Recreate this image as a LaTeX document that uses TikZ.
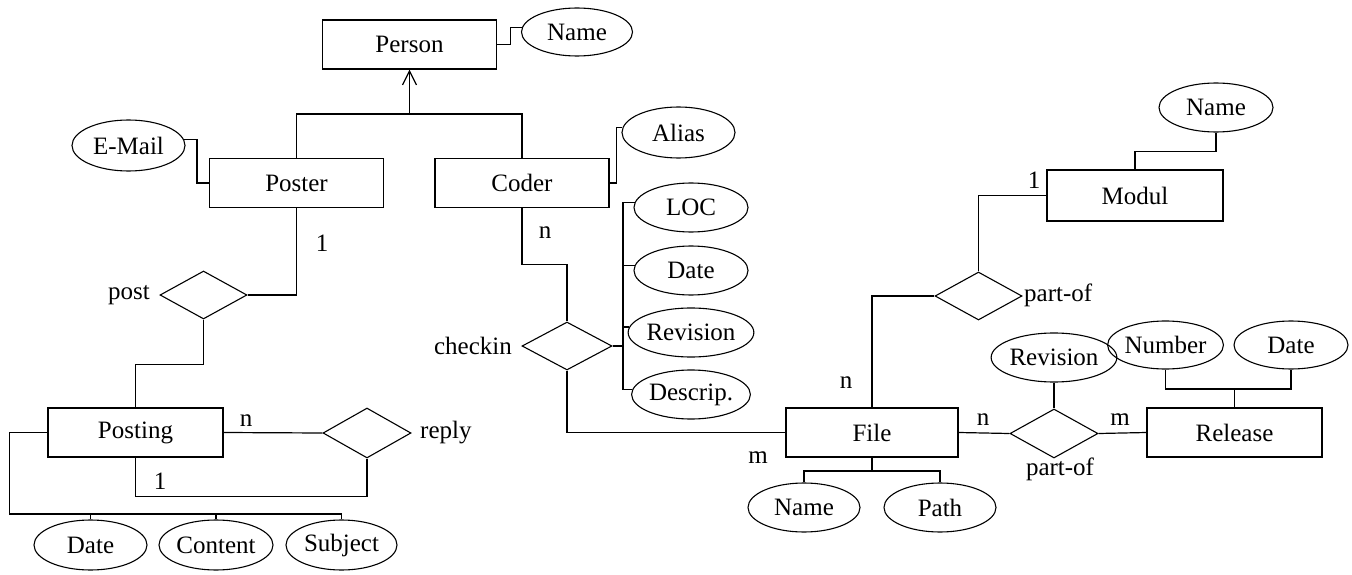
\documentclass[tikz,border=0pt]{standalone}
\usepackage{fontspec}
\setmainfont{Liberation Serif}
\usetikzlibrary{shapes.geometric,arrows.meta}
\tikzset{
  entity/.style={draw, line width=1.2pt, rectangle, minimum width=174pt, minimum height=49pt, inner sep=0pt, font=\fontsize{25}{29}\selectfont},
  attr/.style={draw, line width=1.1pt, ellipse, minimum width=113pt, minimum height=49pt, inner sep=0pt, font=\fontsize{25}{29}\selectfont},
  rel/.style={draw, line width=1.1pt, diamond, minimum width=88pt, minimum height=48pt, inner sep=0pt},
  lbl/.style={inner sep=0pt, font=\fontsize{25}{29}\selectfont},
  conn/.style={line width=1.2pt},
}
\begin{document}
\begin{tikzpicture}[x=1pt,y=-1pt]
\useasboundingbox (0,0) rectangle (1352,575);
% entities
\node[entity] (Person) at (409.5,44.5) {Person};
\node[entity] (Poster) at (296.5,183) {Poster};
\node[entity] (Coder) at (522,183) {Coder};
\node[entity, minimum height=51pt, minimum width=176pt] (Modul) at (1135,195.5) {Modul};
\node[entity, minimum width=172pt] (File) at (872,432.5) {File};
\node[entity, minimum width=175pt] (Release) at (1234.5,432.5) {Release};
\node[entity, minimum width=175pt] (Posting) at (135.5,432.5) {Posting};
% attributes
\node[attr, minimum width=111pt, minimum height=48pt] (PName) at (577,32) {Name};
\node[attr, minimum height=51pt] (Email) at (128.5,145.5) {E-Mail};
\node[attr, minimum height=51pt] (Alias) at (678.5,132.5) {Alias};
\node[attr, minimum width=114pt] (LOC) at (691,207.5) {LOC};
\node[attr, minimum width=114pt] (CDate) at (691,270.5) {Date};
\node[attr, minimum width=114pt] (Rev1) at (691,332.5) {Revision};
\node[attr, minimum width=114pt] (Descrip) at (691,394.5) {Descrip.};
\node[attr, minimum width=114pt] (MName) at (1216,107.5) {Name};
\node[attr, minimum width=112pt] (FName) at (804,507.5) {Name};
\node[attr, minimum width=112pt] (PathE) at (940,507.5) {Path};
\node[attr, minimum width=112pt] (Rev2) at (1054,357.5) {Revision};
\node[attr, minimum height=48pt] (Number) at (1165.5,345) {Number};
\node[attr, minimum width=114pt, minimum height=48pt] (RDate) at (1291,345) {Date};
\node[attr, minimum height=50pt] (PDate) at (90.5,545) {Date};
\node[attr, minimum width=114pt, minimum height=50pt] (Content) at (216,545) {Content};
\node[attr, minimum width=111pt, minimum height=50pt] (Subject) at (341.5,545) {Subject};
% relationships
\node[rel, minimum width=90pt] (Checkin) at (567,346) {};
\node[rel, minimum width=87pt] (PartOf1) at (978.5,296) {};
\node[rel, minimum height=49pt] (PartOf2) at (1054,433.5) {};
\node[rel, minimum width=87pt] (Post) at (203.5,295) {};
\node[rel, minimum height=50pt] (Reply) at (367,433) {};
% relationship labels
\node[lbl, anchor=east] (tPost) at (150,295) {post};
\node[lbl, anchor=east] (tCheckin) at (512,346) {checkin};
\node[lbl, anchor=west] (tReply) at (420,433) {reply};
\node[lbl, anchor=west] (tPartOf1) at (1024,295) {part-of};
\node[lbl] (tPartOf2) at (1060,469) {part-of};
% cardinalities
\node[lbl] (c1) at (322,243) {1};
\node[lbl] (c2) at (545,233) {n};
\node[lbl] (c3) at (1034,180) {1};
\node[lbl] (c4) at (846,383) {n};
\node[lbl] (c5) at (758,458) {m};
\node[lbl] (c6) at (983,420) {n};
\node[lbl] (c7) at (1120,420) {m};
\node[lbl] (c8) at (246,421) {n};
\node[lbl] (c9) at (160,481) {1};
% coordinates
\coordinate (isa) at (409.5,114);
\coordinate (cv) at (623,0);
\coordinate (fb) at (0,471);
\coordinate (rb) at (0,389);
\coordinate (pb) at (341.5,514);
% connectors
\draw[conn] (Person.east) -- ++(13,0) |- (PName.175);
\draw[conn] (Poster.north) -- (Poster.north |- isa) -- (Coder.north |- isa) -- (Coder.north);
\draw[conn, -{Straight Barb[length=14pt, width=14pt, line width=1.2pt]}] (isa) -- (Person.south);
\draw[conn] (Poster.west) -- ++(-12,0) |- (Email.6);
\draw[conn] (Coder.east) -- ++(7,0) |- (Alias.175);
\draw[conn] (Coder.south) -- ++(0,56) -| (Checkin.north);
\draw[conn] (LOC.175) -- (LOC.175 -| cv) -- (Descrip.175 -| cv) -- (Descrip.175);
\draw[conn] (CDate.175) -- (CDate.175 -| cv);
\draw[conn] (Rev1.175) -- (Rev1.175 -| cv);
\draw[conn] (Checkin.east) -- (Checkin.east -| cv);
\draw[conn] (Checkin.south) |- (File.west);
\draw[conn] (File.north) |- (PartOf1.west);
\draw[conn] (PartOf1.north) |- (Modul.west);
\draw[conn] (MName.south) -- ++(0,19) -| (Modul.north);
\draw[conn] (FName.north) -- (FName.north |- fb) -| (PathE.north);
\draw[conn] (File.south) -- (File.south |- fb);
\draw[conn] (File.east) -- (PartOf2.west);
\draw[conn] (PartOf2.east) -- (Release.west);
\draw[conn] (Rev2.south) -- (PartOf2.north);
\draw[conn] (Number.south) -- (Number.south |- rb) -| (RDate.south);
\draw[conn] (Release.north) -- (Release.north |- rb);
\draw[conn] (Poster.south) |- (Post.east);
\draw[conn] (Post.south) -- ++(0,45) -| (Posting.north);
\draw[conn] (Posting.east) -- (Reply.west);
\draw[conn] (Reply.south) -- ++(0,38) -| (Posting.south);
\draw[conn] (Posting.west) -- ++(-38,0) |- (pb) -- (Subject.north);
\draw[conn] (PDate.north) -- (PDate.north |- pb);
\draw[conn] (Content.north) -- (Content.north |- pb);
\end{tikzpicture}
\end{document}
